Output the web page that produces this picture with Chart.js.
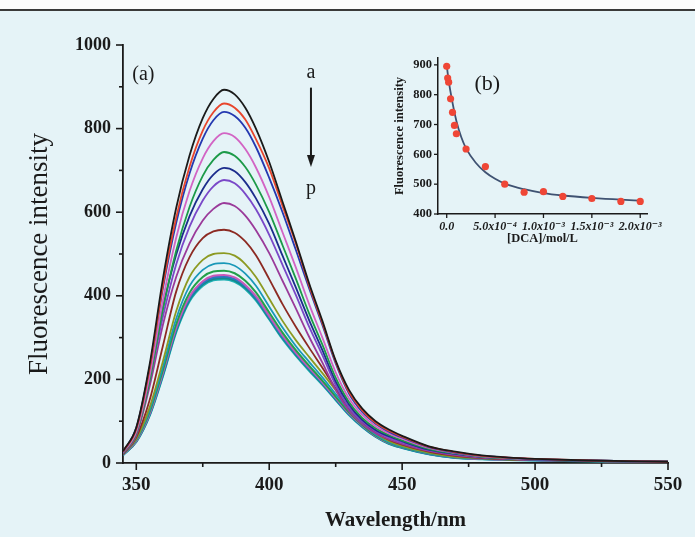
<!DOCTYPE html>
<html lang="en">
<head>
  <meta charset="UTF-8" />
  <title>Fluorescence spectra</title>
  <script src="https://cdn.jsdelivr.net/npm/chart.js"></script>
  <style>
    html, body {
      margin: 0;
      padding: 0;
      width: 695px;
      height: 537px;
      overflow: hidden;
      background: #e5f3f7;
    }
    .topband {
      position: absolute;
      left: 0; top: 0;
      width: 695px; height: 9px;
      background: #fdfdfd;
      border-bottom: 2px solid #3a3a3a;
    }
    canvas { position: absolute; }
    #main { left: 0; top: 0; }
    #inset { left: 380px; top: 30px; }
  </style>
</head>
<body>
  <div class="topband"></div>
  <canvas id="main" width="695" height="537"></canvas>
  <canvas id="inset" width="310" height="230"></canvas>

  <script>
    // wavelengths (nm) where the curves were read
    const wavelengths = [345,350,355,360,365,370,375,379,383,387,391,395,400,405,410,415,420,425,430,435,440,445,450,460,470,480,490,500,520,550];

    // spectra a -> p (fluorescence intensity)
    const curveA = [28,85,235,440,610,735,825,871,893,882,850,800,720,625,530,430,340,245,175,130,100,80,65,40,27,18,13,10,6,3];
    const curveB = [27,82,226,424,587,708,795,839,860,850,822,775,705,615,525,425,335,242,170,126,96,77,63,39,26,17,13,10,6,3];
    const curveC = [26,84,228,418,574,692,776,820,840,830,802,756,682,600,510,418,330,238,166,122,94,75,61,38,25,17,13,9,6,3];
    const curveD = [25,75,208,389,539,650,729,770,789,780,751,707,636,552,468,380,300,217,155,115,88,71,58,36,24,16,12,9,6,3];
    const curveE = [24,71,196,367,508,612,687,725,744,735,708,666,600,521,441,358,283,204,146,108,83,67,54,34,23,15,11,8,5,3];
    const curveF = [25,78,210,372,498,590,655,690,706,698,672,633,572,496,420,342,270,195,140,103,79,64,52,32,22,15,11,8,5,3];
    const curveG = [24,72,199,350,475,565,628,662,677,669,644,607,546,474,402,326,258,186,133,99,76,61,49,31,21,14,10,8,5,2];
    const curveH = [23,66,183,330,445,525,580,608,622,615,592,557,502,436,370,302,240,175,125,93,71,57,46,29,19,13,10,7,5,2];
    const curveI = [21,62,150,280,410,492,538,554,558,551,530,497,440,380,326,276,228,178,132,99,73,56,44,27,17,12,9,8,5,2];
    const curveJ = [22,58,133,243,363,445,486,500,502,496,476,445,393,340,294,254,215,174,132,99,72,53,41,25,15,12,9,8,5,2];
    const curveK = [21,56,126,230,345,423,462,476,478,472,453,424,374,324,280,242,205,165,126,95,68,50,39,24,14,11,9,7,5,2];
    const curveL = [21,55,122,222,332,407,445,458,460,454,436,408,360,312,270,233,197,159,121,91,66,49,38,23,14,11,8,7,5,2];
    const curveM = [20,53,118,216,324,398,435,448,450,444,426,399,352,305,264,228,193,156,119,90,65,48,38,23,14,10,8,7,5,2];
    const curveN = [20,53,117,214,321,394,431,444,446,440,423,395,349,302,262,226,191,154,118,89,65,48,37,22,13,10,8,7,5,2];
    const curveO = [20,52,116,212,318,391,428,441,443,437,420,393,347,300,260,224,190,153,117,88,64,47,37,22,13,10,8,7,5,2];
    const curveP = [20,52,115,210,315,388,425,438,440,434,417,390,345,298,258,222,188,152,116,87,64,47,37,22,13,10,8,7,5,2];

    const curves = [curveA,curveB,curveC,curveD,curveE,curveF,curveG,curveH,curveI,curveJ,curveK,curveL,curveM,curveN,curveO,curveP];
    const curveColors = ['#1a1a1a','#e8452c','#2438b0','#d264c4','#1c9a48','#1c2c8c','#7a48c8','#9a3a9a',
                         '#8c2a22','#8c9a22','#1a98b8','#22a04a','#c858b8','#2a78c0','#128a8a','#1eb0b4'];
    const curveWidths = [1.8,1.8,1.8,1.8,1.8,1.8,1.8,1.8,1.8,1.8,1.8,2,2,2.2,2.6,2.8];

    // main axis ticks
    const xMajor = [350,400,450,500,550];
    const xMinor = [375,425,475,525];
    const yMajor = [0,200,400,600,800,1000];
    const yMinor = [100,300,500,700,900];

    // inset (b): quenching data
    const dcaConc = [0,1e-5,2e-5,4e-5,6e-5,8e-5,1e-4,2e-4,4e-4,6e-4,8e-4,1e-3,1.2e-3,1.5e-3,1.8e-3,2e-3];
    const peakIntensity = [895,856,842,786,741,697,669,618,559,500,473,475,459,452,442,442];
    const fitConc = [0,1e-5,2e-5,5e-5,1e-4,1.5e-4,2e-4,3e-4,4e-4,5e-4,6e-4,8e-4,1e-3,1.2e-3,1.5e-3,1.8e-3,2e-3];
    const fitIntensity = [900,872,848,790,712,658,620,572,540,518,502,483,470,462,454,448,445];
    const insetXTicks = [0,5e-4,1e-3,1.5e-3,2e-3];
    const insetXLabels = ['0.0','5.0x10⁻⁴','1.0x10⁻³','1.5x10⁻³','2.0x10⁻³'];
    const insetYTicks = [400,500,600,700,800,900];

    const serif = "'Liberation Serif', 'DejaVu Serif', serif";
    const ink = '#1a1a1a';

    // draws tick marks outside the axes, major and minor
    const tickMarks = {
      id: 'tickMarks',
      afterDraw(chart, args, opts) {
        const ctx = chart.ctx;
        const xs = chart.scales.x, ys = chart.scales.y;
        ctx.save();
        ctx.strokeStyle = ink;
        ctx.lineWidth = opts.width || 1.5;
        const drawX = (vals, len) => vals.forEach(v => {
          const px = xs.getPixelForValue(v);
          ctx.beginPath(); ctx.moveTo(px, xs.top); ctx.lineTo(px, xs.top + len); ctx.stroke();
        });
        const drawY = (vals, len) => vals.forEach(v => {
          const py = ys.getPixelForValue(v);
          ctx.beginPath(); ctx.moveTo(ys.right, py); ctx.lineTo(ys.right - len, py); ctx.stroke();
        });
        drawX(opts.xMajor || [], opts.len);
        drawX(opts.xMinor || [], opts.minorLen);
        drawY(opts.yMajor || [], opts.len);
        drawY(opts.yMinor || [], opts.minorLen);
        ctx.restore();
      }
    };

    // text labels and arrow placed in data coordinates
    const notes = {
      id: 'notes',
      afterDraw(chart, args, opts) {
        const ctx = chart.ctx;
        const xs = chart.scales.x, ys = chart.scales.y;
        ctx.save();
        ctx.fillStyle = ink;
        ctx.strokeStyle = ink;
        (opts.texts || []).forEach(t => {
          ctx.font = t.font;
          ctx.textAlign = t.align || 'center';
          ctx.textBaseline = 'middle';
          ctx.fillText(t.text, xs.getPixelForValue(t.x), ys.getPixelForValue(t.y));
        });
        if (opts.arrow) {
          const a = opts.arrow;
          const px = xs.getPixelForValue(a.x);
          const y0 = ys.getPixelForValue(a.from), y1 = ys.getPixelForValue(a.to);
          ctx.lineWidth = 2;
          ctx.beginPath(); ctx.moveTo(px, y0); ctx.lineTo(px, y1 - 8); ctx.stroke();
          ctx.beginPath(); ctx.moveTo(px - 4, y1 - 12); ctx.lineTo(px, y1); ctx.lineTo(px + 4, y1 - 12);
          ctx.closePath(); ctx.fill();
        }
        ctx.restore();
      }
    };

    new Chart(document.getElementById('main'), {
      type: 'line',
      data: {
        datasets: curves.map((c, i) => ({
          label: String.fromCharCode(97 + i),
          data: wavelengths.map((w, k) => ({ x: w, y: c[k] })),
          borderColor: curveColors[i],
          borderWidth: curveWidths[i],
          pointRadius: 0,
          cubicInterpolationMode: 'monotone',
          fill: false
        }))
      },
      options: {
        responsive: false,
        animation: false,
        layout: { padding: { left: 0, right: 27, top: 45, bottom: 0 } },
        scales: {
          x: {
            type: 'linear',
            min: 345, max: 550,
            afterBuildTicks: s => { s.ticks = xMajor.map(v => ({ value: v })); },
            afterFit: s => { s.height = 74; },
            grid: { display: false, drawTicks: false },
            border: { display: true, color: ink, width: 1.8 },
            ticks: { color: ink, padding: 11, font: { family: serif, size: 19, weight: 'bold' }, callback: v => String(v) },
            title: {
              display: true, text: 'Wavelength/nm', color: ink, padding: { bottom: 4 },
              font: { family: serif, size: 21, weight: 'bold' }
            }
          },
          y: {
            min: 0, max: 1000,
            afterBuildTicks: s => { s.ticks = yMajor.map(v => ({ value: v })); },
            afterFit: s => { s.width = 123; },
            grid: { display: false, drawTicks: false },
            border: { display: true, color: ink, width: 1.8 },
            ticks: { color: ink, padding: 12, font: { family: serif, size: 18, weight: 'bold' }, callback: v => String(v) },
            title: {
              display: true, text: 'Fluorescence intensity', color: ink, padding: { top: 24 },
              font: { family: serif, size: 27 }
            }
          }
        },
        plugins: {
          legend: { display: false },
          tooltip: { enabled: false },
          tickMarks: { xMajor, xMinor, yMajor, yMinor, len: 7, minorLen: 4, width: 1.6 },
          notes: {
            texts: [
              { text: '(a)', x: 348.5, y: 928, align: 'left', font: `20px ${serif}` },
              { text: 'a', x: 415.7, y: 934, font: `20px ${serif}` },
              { text: 'p', x: 415.7, y: 656, font: `20px ${serif}` }
            ],
            arrow: { x: 415.7, from: 898, to: 708 }
          }
        }
      },
      plugins: [tickMarks, notes]
    });

    new Chart(document.getElementById('inset'), {
      type: 'scatter',
      data: {
        datasets: [
          {
            label: 'data',
            data: dcaConc.map((c, i) => ({ x: c, y: peakIntensity[i] })),
            pointRadius: 3.6,
            pointBackgroundColor: '#ef4636',
            pointBorderWidth: 0
          },
          {
            label: 'fit',
            data: fitConc.map((c, i) => ({ x: c, y: fitIntensity[i] })),
            showLine: true,
            pointRadius: 0,
            borderColor: '#3f5272',
            borderWidth: 1.8,
            cubicInterpolationMode: 'monotone'
          }
        ]
      },
      options: {
        responsive: false,
        animation: false,
        layout: { padding: { left: 0, right: 43, top: 28, bottom: 0 } },
        scales: {
          x: {
            type: 'linear',
            min: -9e-5, max: 2.07e-3,
            afterBuildTicks: s => { s.ticks = insetXTicks.map(v => ({ value: v })); },
            afterFit: s => { s.height = 46; },
            grid: { display: false, drawTicks: false },
            border: { display: true, color: ink, width: 1.5 },
            ticks: {
              color: ink, padding: 6, maxRotation: 0,
              font: { family: serif, size: 12, weight: 'bold', style: 'italic' },
              callback: v => insetXLabels[insetXTicks.indexOf(v)]
            },
            title: {
              display: true, text: '[DCA]/mol/L', color: ink, padding: { bottom: 14 },
              font: { family: serif, size: 12.5, weight: 'bold' }
            }
          },
          y: {
            min: 400, max: 923,
            afterBuildTicks: s => { s.ticks = insetYTicks.map(v => ({ value: v })); },
            afterFit: s => { s.width = 58; },
            grid: { display: false, drawTicks: false },
            border: { display: true, color: ink, width: 1.5 },
            ticks: { color: ink, padding: 6, font: { family: serif, size: 12.5, weight: 'bold' } },
            title: {
              display: true, text: 'Fluorescence intensity', color: ink, padding: { top: 12 },
              font: { family: serif, size: 12.5, weight: 'bold' }
            }
          }
        },
        plugins: {
          legend: { display: false },
          tooltip: { enabled: false },
          tickMarks: { xMajor: insetXTicks, yMajor: insetYTicks, len: 4, width: 1.3 },
          notes: {
            texts: [{ text: '(b)', x: 4.2e-4, y: 835, font: `22px ${serif}` }]
          }
        }
      },
      plugins: [tickMarks, notes]
    });
  </script>
</body>
</html>
